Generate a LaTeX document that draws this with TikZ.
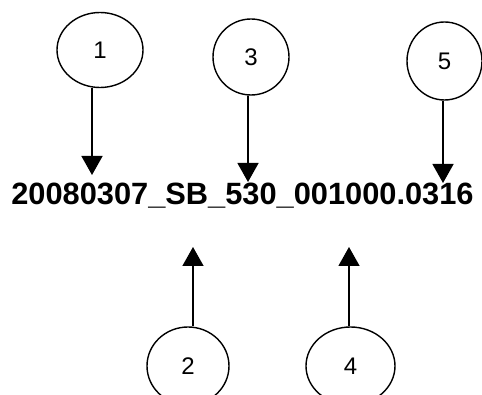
\documentclass[tikz,border=0pt]{standalone}
\usepackage{fontspec}
\setmainfont{Liberation Sans}
\usetikzlibrary{shapes.geometric,arrows.meta}

\begin{document}
\begin{tikzpicture}[x=1pt, y=-1pt,
    oval/.style={ellipse, draw, line width=1.4pt, inner sep=0pt, font=\fontsize{24}{24}\selectfont},
    arr/.style={line width=1.4pt, -{Triangle[width=21pt,length=19pt]}}]
    \useasboundingbox (0, 0) rectangle (482, 395);

    \node at (100, 50) [oval, minimum width=86, minimum height=75] (o1) {1};
    \node at (251, 57) [oval, minimum width=76, minimum height=76] (o3) {3};
    \node at (444.5, 61) [oval, minimum width=75, minimum height=78] (o5) {5};
    \node at (188, 366) [oval, minimum width=82, minimum height=78] (o2) {2};
    \node at (350.5, 366) [oval, minimum width=89, minimum height=78] (o4) {4};

    \node at (242.5, 205) [anchor=base, font=\fontsize{30.8}{30.8}\selectfont\bfseries] (fname) {20080307\_SB\_530\_001000.0316};

    \coordinate (t1) at (92, 175);
    \coordinate (t3) at (248, 182);
    \coordinate (t5) at (443, 183);
    \coordinate (t2) at (193, 247);
    \coordinate (t4) at (349, 247);

    \draw[arr] (o1.south -| t1) -- (t1);
    \draw[arr] (o3.south -| t3) -- (t3);
    \draw[arr] (o5.south -| t5) -- (t5);
    \draw[arr] (o2.north -| t2) -- (t2);
    \draw[arr] (o4.north -| t4) -- (t4);

\end{tikzpicture}
\end{document}
